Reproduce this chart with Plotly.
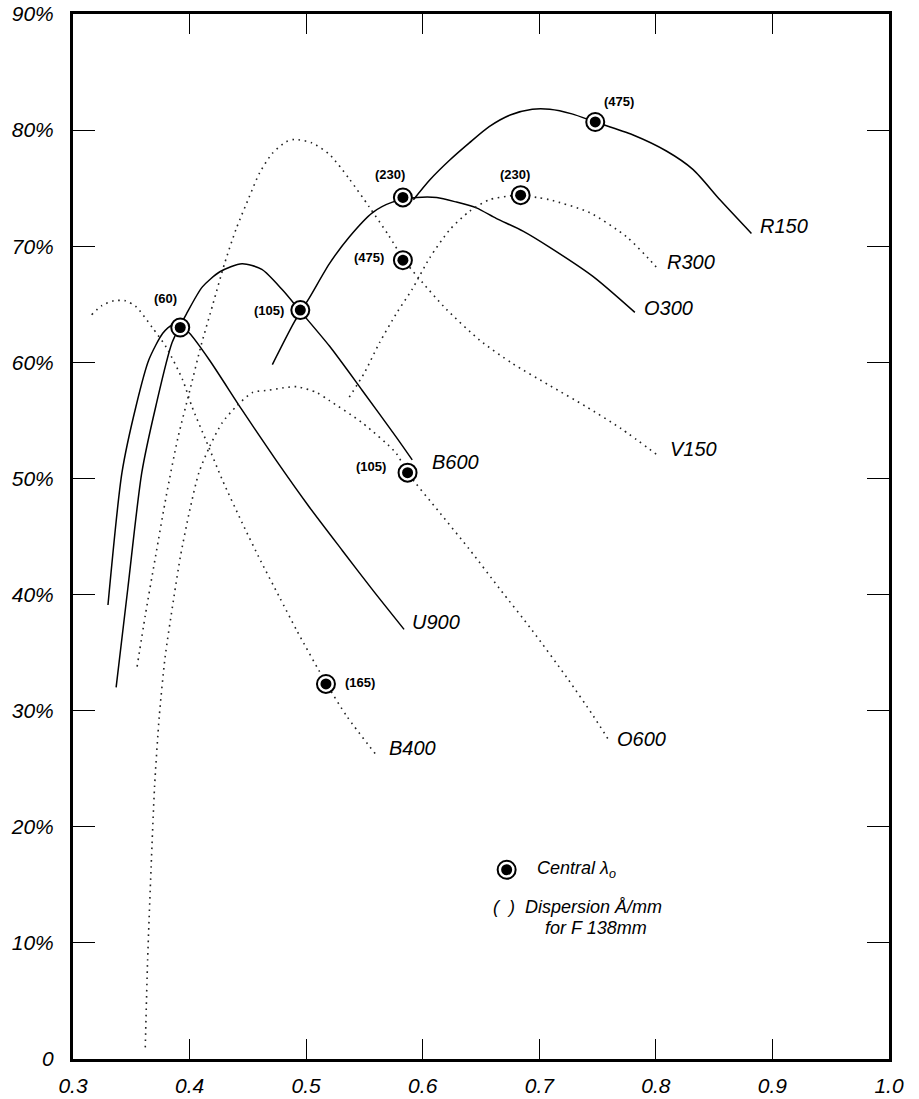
import plotly.graph_objects as go

# ---------------- data (wavelength in microns, efficiency in %) ----------------
U900_X = [0.330, 0.342, 0.354, 0.365, 0.377, 0.385, 0.392, 0.400, 0.417, 0.445, 0.474, 0.503, 0.531, 0.557, 0.584]
U900_Y = [39.1, 50.5, 56.2, 60.2, 62.5, 63.2, 63.1, 62.5, 60.2, 55.9, 51.6, 47.5, 43.8, 40.4, 37.0]

B600_X = [0.337, 0.347, 0.359, 0.371, 0.385, 0.398, 0.411, 0.426, 0.445, 0.462, 0.480, 0.495, 0.520, 0.548, 0.577, 0.591]
B600_Y = [32.0, 40.5, 50.5, 56.2, 61.7, 64.3, 66.5, 67.8, 68.5, 68.0, 66.2, 64.4, 61.4, 57.6, 53.6, 51.6]

O300_X = [0.471, 0.490, 0.503, 0.520, 0.537, 0.557, 0.574, 0.595, 0.612, 0.629, 0.646, 0.663, 0.686, 0.709, 0.746, 0.782]
O300_Y = [59.8, 63.5, 65.6, 68.5, 70.8, 72.9, 73.8, 74.2, 74.2, 73.8, 73.3, 72.4, 71.3, 69.9, 67.4, 64.3]

R150_X = [0.592, 0.606, 0.623, 0.640, 0.657, 0.675, 0.694, 0.709, 0.728, 0.748, 0.780, 0.809, 0.832, 0.855, 0.882]
R150_Y = [74.0, 75.7, 77.4, 78.9, 80.3, 81.3, 81.8, 81.8, 81.4, 80.7, 79.6, 78.2, 76.6, 74.0, 71.1]

B400_X = [0.316, 0.325, 0.335, 0.345, 0.354, 0.368, 0.380, 0.394, 0.402, 0.414, 0.428, 0.445, 0.461, 0.477, 0.492, 0.517, 0.535, 0.560]
B400_Y = [64.1, 64.9, 65.3, 65.3, 64.8, 63.0, 61.3, 58.5, 56.2, 53.3, 49.9, 46.2, 42.9, 39.8, 36.9, 32.4, 29.5, 26.2]

V150_X = [0.355, 0.362, 0.371, 0.380, 0.390, 0.400, 0.410, 0.420, 0.430, 0.440, 0.451, 0.460, 0.471, 0.483, 0.490,
          0.505, 0.520, 0.537, 0.554, 0.571, 0.584, 0.597, 0.620, 0.649, 0.677, 0.709, 0.740, 0.770, 0.803]
V150_Y = [33.8, 38.2, 43.4, 48.5, 53.5, 57.5, 61.5, 65.0, 68.5, 71.5, 74.2, 76.3, 78.0, 79.0, 79.2,
          78.9, 77.9, 75.8, 73.4, 70.9, 68.8, 67.2, 64.6, 61.9, 59.9, 58.0, 56.2, 54.3, 51.9]

O600_X = [0.362, 0.364, 0.367, 0.370, 0.374, 0.379, 0.386, 0.392, 0.400, 0.408, 0.417,
          0.428, 0.440, 0.454, 0.468, 0.480, 0.492, 0.509, 0.520, 0.548, 0.577, 0.587, 0.615, 0.640, 0.666, 0.694, 0.724, 0.746, 0.760]
O600_Y = [1.0, 8.5, 16.5, 23.5, 29.5, 34.6, 39.4, 43.2, 47.2, 50.5, 52.7,
          54.8, 56.2, 57.4, 57.6, 57.8, 57.9, 57.4, 56.7, 54.8, 52.2, 50.5, 47.0, 43.9, 40.5, 36.9, 32.8, 29.6, 27.4]

R300_X = [0.537, 0.550, 0.563, 0.578, 0.591, 0.606, 0.623, 0.640, 0.657, 0.672, 0.684, 0.698, 0.709, 0.743, 0.775, 0.795, 0.802]
R300_Y = [57.0, 59.1, 61.7, 64.3, 66.3, 69.0, 71.4, 73.0, 74.0, 74.3, 74.4, 74.2, 74.0, 72.9, 70.8, 68.8, 68.0]

# curve name labels
CURVE_NAMES = ["R150", "R300", "O300", "V150", "B600", "U900", "B400", "O600"]
CURVE_LABEL_X = [0.888, 0.808, 0.788, 0.810, 0.606, 0.589, 0.569, 0.765]
CURVE_LABEL_Y = [71.7, 68.6, 64.7, 52.5, 51.4, 37.6, 26.8, 27.6]

# central wavelength markers and dispersion labels
CENTRAL_X = [0.392, 0.495, 0.583, 0.583, 0.684, 0.748, 0.587, 0.517]
CENTRAL_Y = [63.0, 64.5, 74.2, 68.8, 74.4, 80.7, 50.5, 32.3]
DISP_TEXT = ["(60)", "(105)", "(230)", "(475)", "(230)", "(475)", "(105)", "(165)"]
DISP_X = [0.379, 0.468, 0.572, 0.554, 0.679, 0.768, 0.556, 0.546]
DISP_Y = [65.5, 64.5, 76.2, 69.0, 76.2, 82.5, 51.0, 32.4]

# legend block
LEGEND_MARK_X = [0.672]
LEGEND_MARK_Y = [16.3]
LEGEND_TEXT = ["Central λ<sub>o</sub>", "(  )  Dispersion Å/mm", "for F 138mm"]
LEGEND_TEXT_X = [0.696, 0.659, 0.703]
LEGEND_TEXT_Y = [16.3, 13.1, 11.3]

X_TICKS = [0.3, 0.4, 0.5, 0.6, 0.7, 0.8, 0.9, 1.0]
X_TICK_TEXT = ["0.3", "0.4", "0.5", "0.6", "0.7", "0.8", "0.9", "1.0"]
Y_TICKS = [0, 10, 20, 30, 40, 50, 60, 70, 80, 90]
Y_TICK_TEXT = ["0", "10%", "20%", "30%", "40%", "50%", "60%", "70%", "80%", "90%"]

# ---------------- figure ----------------
fig = go.Figure()

solid = [(U900_X, U900_Y), (B600_X, B600_Y), (O300_X, O300_Y), (R150_X, R150_Y)]
dotted = [(B400_X, B400_Y), (V150_X, V150_Y), (O600_X, O600_Y), (R300_X, R300_Y)]

for xs, ys in solid:
    fig.add_trace(go.Scatter(x=xs, y=ys, mode="lines",
                             line=dict(color="black", width=1.5, shape="spline", smoothing=0.7),
                             showlegend=False, hoverinfo="skip"))
for xs, ys in dotted:
    fig.add_trace(go.Scatter(x=xs, y=ys, mode="lines",
                             line=dict(color="#222222", width=1.6, shape="spline", smoothing=0.7,
                                       dash="1.6px,4.6px"),
                             showlegend=False, hoverinfo="skip"))

mx = CENTRAL_X + LEGEND_MARK_X
my = CENTRAL_Y + LEGEND_MARK_Y
fig.add_trace(go.Scatter(x=mx, y=my, mode="markers",
                         marker=dict(symbol="circle", size=18, color="white",
                                     line=dict(color="black", width=2)),
                         showlegend=False, hoverinfo="skip"))
fig.add_trace(go.Scatter(x=mx, y=my, mode="markers",
                         marker=dict(symbol="circle", size=11, color="black",
                                     line=dict(width=0)),
                         showlegend=False, hoverinfo="skip"))

label_font = dict(family="Liberation Sans", size=20, color="black", style="italic")
for name, lx, ly in zip(CURVE_NAMES, CURVE_LABEL_X, CURVE_LABEL_Y):
    fig.add_annotation(x=lx, y=ly, text=name, showarrow=False, xanchor="left",
                       yanchor="middle", font=label_font)

for t, dx, dy in zip(DISP_TEXT, DISP_X, DISP_Y):
    fig.add_annotation(x=dx, y=dy, text=t, showarrow=False, xanchor="center",
                       yanchor="middle",
                       font=dict(family="Liberation Sans", size=13, color="black", weight="bold"))

for t, tx, ty in zip(LEGEND_TEXT, LEGEND_TEXT_X, LEGEND_TEXT_Y):
    fig.add_annotation(x=tx, y=ty, text=t, showarrow=False, xanchor="left",
                       yanchor="middle",
                       font=dict(family="Liberation Sans", size=18, color="black", style="italic"))

tick_font = dict(family="Liberation Sans", size=21, color="black", style="italic")
fig.update_xaxes(range=[0.3, 1.0], tickmode="array", tickvals=X_TICKS, ticktext=X_TICK_TEXT,
                 ticks="inside", ticklen=20, tickwidth=1.3, tickcolor="black",
                 showline=True, linewidth=3, linecolor="black", mirror="ticks",
                 showgrid=False, zeroline=False, tickfont=tick_font, ticklabelstandoff=6,
                 automargin=False)
fig.update_yaxes(range=[0, 90], tickmode="array", tickvals=Y_TICKS, ticktext=Y_TICK_TEXT,
                 ticks="inside", ticklen=22, tickwidth=1.3, tickcolor="black",
                 showline=True, linewidth=3, linecolor="black", mirror="ticks",
                 showgrid=False, zeroline=False, tickfont=tick_font, ticklabelstandoff=12,
                 automargin=False)

fig.update_layout(width=919, height=1099, margin=dict(l=73, r=30, t=14, b=40),
                  paper_bgcolor="white", plot_bgcolor="white", showlegend=False)

# remove the browser's default body margin so the figure sits at the page origin
fig.write_html("out.html", config={"displayModeBar": False},
               post_script="document.body.style.margin='0';")
